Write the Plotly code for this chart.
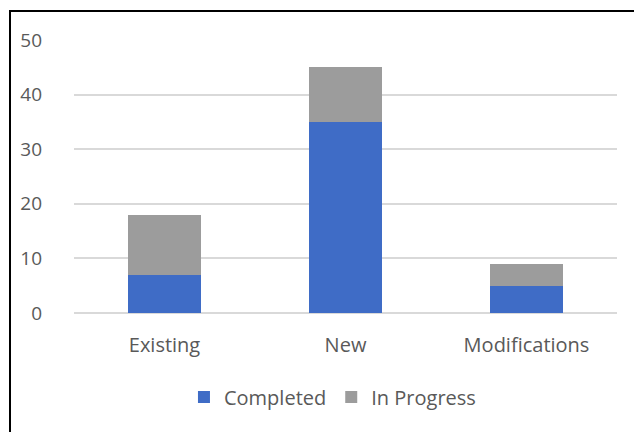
import plotly.graph_objects as go

categories = ["Existing", "New", "Modifications"]
completed = [7, 35, 5]
in_progress = [11, 10, 4]
y_ticks = [0, 10, 20, 30, 40, 50]

fig = go.Figure()
fig.add_trace(go.Bar(x=categories, y=completed, name="Completed",
                     marker=dict(color="#3F6CC6", line=dict(width=0))))
fig.add_trace(go.Bar(x=categories, y=in_progress, name="In Progress",
                     marker=dict(color="#9C9C9C", line=dict(width=0))))

L, R, T, B = 74, 17, 40, 119
W, H = 634, 432
pw, ph = W - L - R, H - T - B

fig.update_layout(
    width=W, height=H,
    barmode="stack", bargap=0.6,
    margin=dict(l=L, r=R, t=T, b=B),
    paper_bgcolor="white", plot_bgcolor="white",
    font=dict(family="Open Sans", size=20, color="#595959"),
    showlegend=True,
    legend=dict(orientation="h", x=0.476, xanchor="center", y=(313 - 397) / ph,
                yanchor="middle", font=dict(size=20, color="#595959"),
                itemwidth=30, traceorder="normal"),
    xaxis=dict(showgrid=False, showline=False, ticks="", ticklabelstandoff=18,
               tickfont=dict(size=20)),
    yaxis=dict(range=[0, 50], tickvals=y_ticks, showgrid=True, gridcolor="#D9D9D9",
               gridwidth=1.5, zeroline=True, zerolinecolor="#D9D9D9", zerolinewidth=1.5,
               showline=False, ticks="", ticklabelstandoff=31, tickfont=dict(size=19)),
    shapes=[dict(type="rect", xref="paper", yref="paper",
                 x0=(10 - L) / pw, x1=(W + 20 - L) / pw,
                 y0=-(B + 20) / ph, y1=(313 - 11) / ph,
                 line=dict(color="black", width=2), layer="above")],
)

fig.write_html("out.html")
